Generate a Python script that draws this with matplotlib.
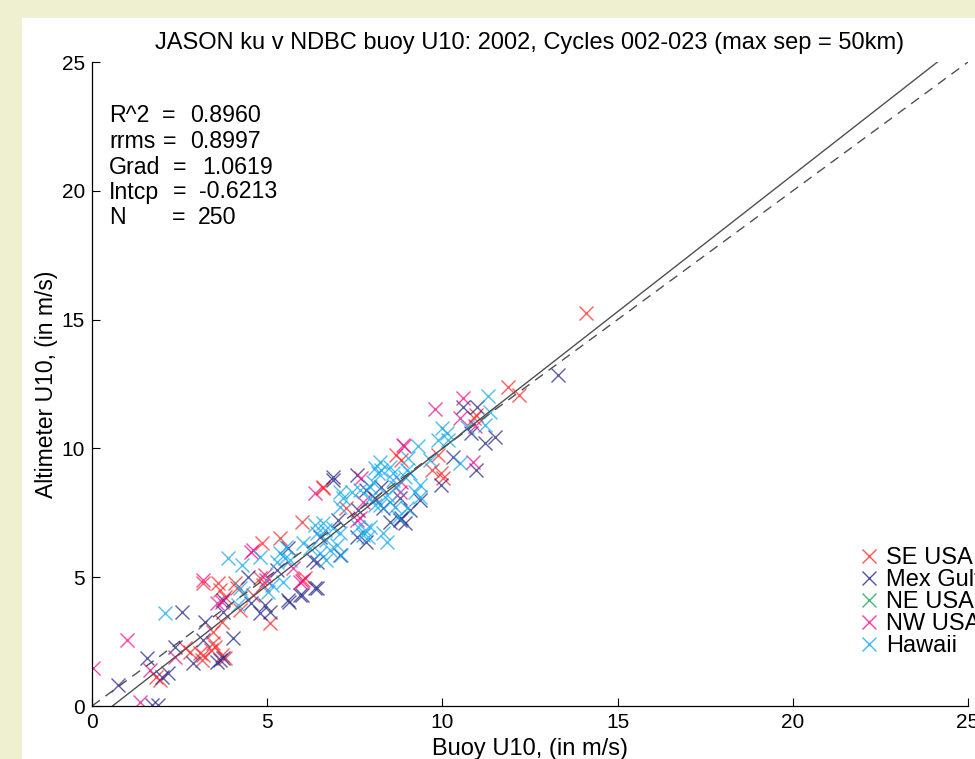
import matplotlib
matplotlib.use("Agg")
import matplotlib.pyplot as plt
from matplotlib.patches import Rectangle
import numpy as np

plt.rcParams['font.family'] = ['Liberation Sans', 'DejaVu Sans']

title = "JASON ku v NDBC buoy U10: 2002, Cycles 002-023 (max sep = 50km)"
xlabel = "Buoy U10, (in m/s)"
ylabel = "Altimeter U10, (in m/s)"
ticks = [0, 5, 10, 15, 20, 25]

stat_names = ["R^2", "rrms", "Grad", "Intcp", "N"]
stat_values = ["0.8960", "0.8997", "1.0619", "-0.6213", "250"]
grad = 1.0619
intcp = -0.6213

series_names = ["SE USA", "Mex Gulf", "NE USA", "NW USA", "Hawaii"]
series_colors = ["#ff2a2a", "#2a2a8c", "#1aa85a", "#f0108c", "#12aaee"]

se_usa = [(14.11, 15.24), (11.87, 12.37), (12.19, 12.07), (10.97, 11.30), (10.90, 11.17),
          (9.88, 9.74), (9.69, 9.16), (9.97, 9.03), (10.02, 8.84), (8.69, 9.74), (8.83, 9.55),
          (6.60, 8.51), (7.26, 7.67), (5.98, 7.16), (5.36, 6.51), (4.84, 6.32), (4.88, 4.70),
          (6.03, 4.89), (6.08, 4.96), (3.18, 4.76), (3.60, 4.76), (4.08, 4.76), (4.13, 4.57),
          (3.65, 4.50), (3.79, 4.24), (4.60, 4.31), (4.22, 3.73), (3.70, 3.27), (3.46, 2.88),
          (3.46, 2.43), (2.65, 2.24), (2.80, 2.11), (3.08, 2.04), (3.18, 1.98), (3.41, 2.17),
          (3.13, 1.79), (3.79, 1.85), (1.84, 1.14), (1.94, 1.01), (5.08, 3.21), (3.51, 2.30),
          (3.70, 1.98), (4.79, 4.96), (6.60, 8.45)]

mex_gulf = [(13.30, 12.85), (10.59, 11.60), (11.00, 11.62), (10.83, 10.59), (11.49, 10.46),
            (11.21, 10.20), (10.31, 9.68), (10.97, 9.16), (9.97, 8.58), (7.55, 8.97), (6.88, 8.77),
            (7.83, 8.39), (8.26, 8.51), (8.79, 8.06), (7.60, 7.61), (9.07, 7.61), (9.36, 8.00),
            (7.03, 7.22), (8.79, 7.22), (8.83, 7.29), (8.93, 7.09), (8.50, 7.16), (7.55, 6.57),
            (7.83, 6.38), (6.50, 6.57), (6.88, 8.90), (5.60, 6.12), (6.41, 5.60), (7.07, 5.86),
            (4.46, 5.02), (5.27, 5.28), (6.41, 4.57), (5.93, 4.31), (5.60, 4.11), (5.62, 4.05),
            (4.55, 3.99), (4.93, 3.92), (5.08, 3.66), (4.79, 3.60), (3.74, 3.66), (3.74, 4.11),
            (2.56, 3.66), (3.22, 3.27), (4.03, 2.63), (3.18, 2.56), (2.37, 2.30), (1.56, 1.85),
            (2.89, 1.65), (3.56, 1.72), (3.65, 1.79), (3.74, 1.85), (2.18, 1.27), (1.99, 1.14),
            (0.75, 0.82), (1.70, 0.04), (1.89, 0.04), (5.98, 4.31), (6.36, 4.57), (6.31, 5.67),
            (8.31, 7.67), (8.07, 8.06)]

ne_usa = []

nw_usa = [(10.59, 11.94), (9.78, 11.53), (10.50, 11.17), (10.92, 10.87), (8.88, 10.13),
          (8.90, 10.10), (10.88, 9.48), (7.69, 8.84), (8.83, 8.71), (8.79, 8.32), (7.74, 7.93),
          (7.55, 7.22), (6.36, 8.26), (4.60, 6.06), (4.55, 5.99), (4.93, 5.09), (4.98, 4.89),
          (5.74, 5.35), (5.93, 4.83), (3.18, 4.89), (3.70, 4.05), (3.56, 3.99), (0.99, 2.56),
          (2.37, 1.91), (0.04, 1.46), (1.65, 1.40), (1.37, 0.17), (7.64, 7.29), (6.00, 4.85)]

hawaii = [(11.30, 12.03), (11.37, 11.42), (11.21, 10.91), (10.69, 10.85), (10.00, 10.78),
          (10.12, 10.59), (9.88, 10.33), (10.16, 10.33), (9.31, 10.09), (10.50, 9.42), (9.64, 9.55),
          (9.02, 9.62), (8.98, 9.16), (8.21, 9.48), (8.07, 9.23), (8.26, 9.16), (8.17, 9.03),
          (8.50, 9.29), (8.59, 9.03), (8.02, 8.71), (7.93, 8.51), (8.59, 8.77), (8.69, 8.51),
          (8.93, 8.90), (9.07, 9.03), (9.36, 8.58), (7.07, 8.32), (7.41, 8.32), (7.64, 8.39),
          (9.21, 8.32), (9.36, 8.13), (8.41, 8.19), (8.50, 7.93), (7.93, 8.06), (8.07, 7.80),
          (8.21, 7.80), (7.17, 8.06), (7.07, 7.74), (8.64, 7.74), (8.98, 7.67), (8.74, 7.35),
          (6.60, 7.09), (6.88, 6.90), (7.07, 6.70), (7.60, 6.96), (7.79, 6.83), (7.93, 6.96),
          (8.31, 6.70), (8.41, 6.38), (6.69, 6.44), (6.98, 6.25), (7.12, 5.86), (6.50, 5.93),
          (6.79, 6.06), (6.69, 5.67), (6.36, 7.03), (6.65, 6.83), (6.41, 6.70), (4.79, 5.80),
          (3.89, 5.73), (4.27, 5.47), (5.50, 5.73), (5.65, 5.67), (6.03, 6.32), (6.22, 6.12),
          (7.74, 6.64), (7.88, 6.57), (5.46, 4.83), (5.13, 4.70), (4.22, 4.57), (4.32, 4.37),
          (4.17, 3.92), (2.08, 3.62), (5.03, 4.44), (5.27, 5.60), (5.55, 6.18), (5.36, 5.93)]

all_series = [se_usa, mex_gulf, ne_usa, nw_usa, hawaii]

W, H = 975, 759
fig = plt.figure(figsize=(W / 100, H / 100), dpi=100, facecolor="#eff0cf")
bg = fig.add_axes([22 / W, 0, 1 - 22 / W, 1 - 18 / H], zorder=-5)
bg.set_facecolor("white")
bg.set_axis_off()
bg.add_patch(Rectangle((0, 0), 1, 1, transform=bg.transAxes, facecolor="white", edgecolor="none"))

ax_l, ax_r, ax_t, ax_b = 92, 968, 62, 706
ax = fig.add_axes([ax_l / W, 1 - ax_b / H, (ax_r - ax_l) / W, (ax_b - ax_t) / H])
ax.set_facecolor("white")

handles = []
for name, col, pts in zip(series_names, series_colors, all_series):
    arr = np.array(pts, dtype=float).reshape(-1, 2)
    h, = ax.plot(arr[:, 0], arr[:, 1], linestyle="none", marker="x", markersize=10,
                 markeredgewidth=1.0, color=col, alpha=0.75, label=name)
    handles.append(h)

# regression (solid) and 1:1 (dashed) lines
y_end = 25.0
x0 = (0 - intcp) / grad
x1 = (y_end - intcp) / grad
ax.plot([x0, x1], [0, y_end], color="#505050", lw=1.0)
ax.plot([0, 25], [0, 25], color="#505050", lw=1.0, dashes=(7, 5))

ax.set_xlim(0, 25)
ax.set_ylim(0, 25)
ax.set_xticks(ticks)
ax.set_yticks(ticks)
ax.tick_params(direction="in", length=6, width=0.8, labelsize=15, pad=5)
for s in ["top", "right"]:
    ax.spines[s].set_visible(False)
for s in ["left", "bottom"]:
    ax.spines[s].set_linewidth(0.9)

ax.set_title(title, fontsize=17, pad=9)
ax.set_xlabel(xlabel, fontsize=17, labelpad=4)
ax.set_ylabel(ylabel, fontsize=16.5, labelpad=3)


def fx(px):
    return (px - ax_l) / (ax_r - ax_l)


def fy(py):
    return (ax_b - py) / (ax_b - ax_t)


line_y = [115, 141, 167, 192, 218]
eq_x = [162, 163, 173, 173, 172]
val_x = [190, 190, 202, 199, 198]
for name, val, yy, ex, vx in zip(stat_names, stat_values, line_y, eq_x, val_x):
    ax.text(fx(109), fy(yy), name, transform=ax.transAxes, fontsize=16.7, va="center", ha="left")
    ax.text(fx(ex), fy(yy), "=", transform=ax.transAxes, fontsize=16.7, va="center", ha="left")
    ax.text(fx(vx), fy(yy), val, transform=ax.transAxes, fontsize=16.7, va="center", ha="left")

leg = ax.legend(handles=handles, loc="upper left",
                bbox_to_anchor=(858 / W, 1 - 547 / H), bbox_transform=fig.transFigure,
                frameon=False, fontsize=17, handlelength=0.9, handletextpad=0.3,
                labelspacing=0.0, borderpad=0, borderaxespad=0)
for lh in leg.legend_handles:
    lh.set_alpha(0.8)

fig.savefig("out.png", dpi=100, facecolor=fig.get_facecolor())
